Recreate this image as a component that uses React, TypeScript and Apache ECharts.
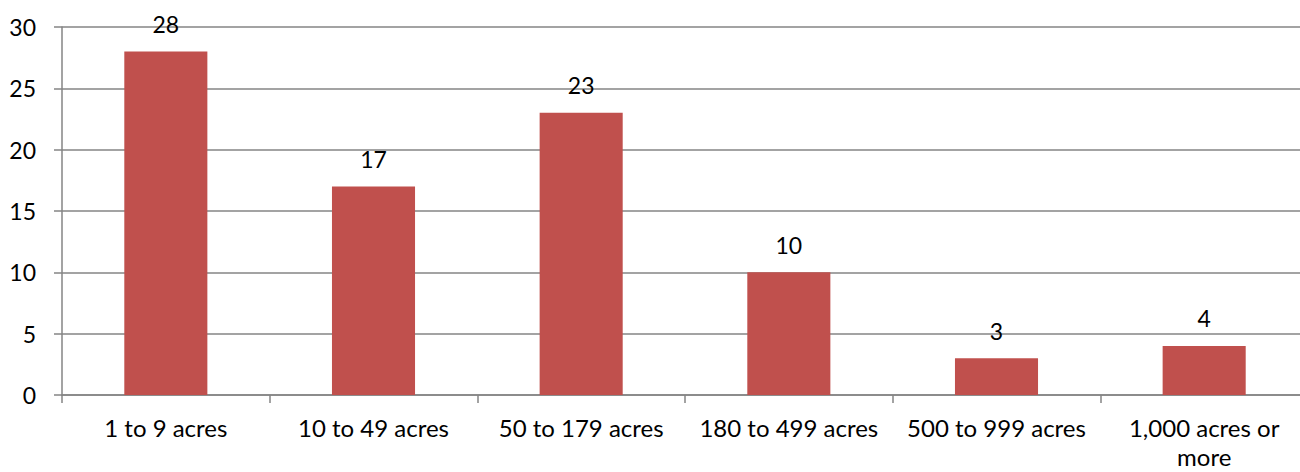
import React, { useEffect, useRef } from "react";
import * as echarts from "echarts";

const categories = [
  "1 to 9 acres",
  "10 to 49 acres",
  "50 to 179 acres",
  "180 to 499 acres",
  "500 to 999 acres",
  "1,000 acres or\nmore",
];
const values = [28, 17, 23, 10, 3, 4];
const yTicks = { min: 0, max: 30, interval: 5 };

const FONT = "Lato, 'Open Sans', sans-serif";
const GRID = "#858585";

export default function App() {
  const ref = useRef<HTMLDivElement>(null);
  useEffect(() => {
    if (!ref.current) return;
    const chart = echarts.init(ref.current, null, { renderer: "svg" });
    chart.setOption({
      animation: false,
      backgroundColor: "#ffffff",
      grid: {
        left: 62,
        right: 0,
        top: 27,
        bottom: 77,
        containLabel: false,
        outerBoundsMode: "none",
      },
      xAxis: {
        type: "category",
        data: categories,
        axisLine: { show: true, lineStyle: { color: GRID, width: 1.5 } },
        axisTick: { show: true, length: 8, alignWithLabel: false, lineStyle: { color: GRID, width: 1.5 } },
        axisLabel: {
          color: "#000000",
          fontFamily: FONT,
          fontSize: 24,
          margin: 18,
          lineHeight: 29,
          interval: 0,
        },
      },
      yAxis: {
        type: "value",
        min: yTicks.min,
        max: yTicks.max,
        interval: yTicks.interval,
        axisLine: { show: true, lineStyle: { color: GRID, width: 1.5 } },
        axisTick: { show: true, length: 8, lineStyle: { color: GRID, width: 1.5 } },
        splitLine: { show: true, lineStyle: { color: GRID, width: 1.5 } },
        axisLabel: {
          color: "#000000",
          fontFamily: FONT,
          fontSize: 23,
          margin: 26,
        },
      },
      series: [
        {
          type: "bar",
          data: values,
          barWidth: "40%",
          itemStyle: { color: "#C0504D" },
          label: {
            show: true,
            position: "top",
            distance: 16,
            color: "#000000",
            fontFamily: FONT,
            fontSize: 23,
          },
        },
      ],
    });
    return () => chart.dispose();
  }, []);
  return (
    <div
      ref={ref}
      style={{ position: "fixed", left: 0, top: 0, width: 1308, height: 472, background: "#fff" }}
    />
  );
}
